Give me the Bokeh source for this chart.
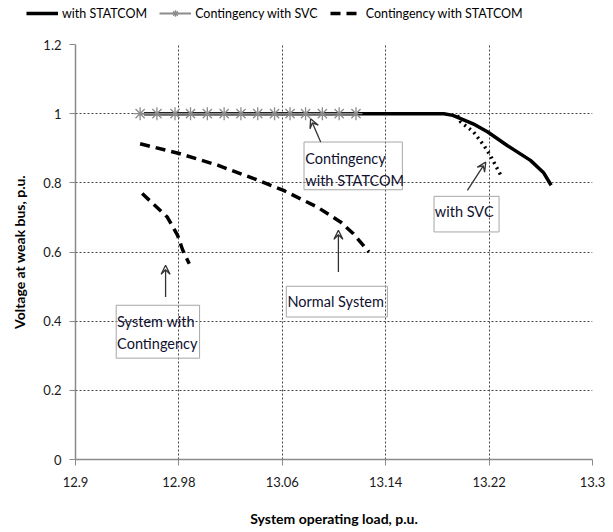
from bokeh.plotting import figure
from bokeh.layouts import column, row
from bokeh.models import (FixedTicker, CustomJSTickFormatter, Legend, LegendItem,
                          Arrow, VeeHead, ColumnDataSource, Range1d)
from bokeh.core.properties import value
from bokeh.embed import file_html
from bokeh.resources import INLINE

FONT = "Lato"

# ---- data ----
statcom_x = [12.953, 13.185, 13.192, 13.198, 13.209, 13.219, 13.234, 13.252, 13.262, 13.268]
statcom_y = [1.0, 1.0, 0.995, 0.9855, 0.968, 0.947, 0.908, 0.865, 0.830, 0.793]

svc_cont_x = [12.950, 12.963, 12.977, 12.989, 13.002, 13.015, 13.028,
              13.041, 13.054, 13.066, 13.078, 13.091, 13.104, 13.117]
svc_cont_y = [1.0] * 14

svc_x = [13.1955, 13.198, 13.208, 13.216, 13.221, 13.229]
svc_y = [0.995, 0.976, 0.947, 0.908, 0.879, 0.822]

normal_x = [12.950, 12.981, 13.010, 13.038, 13.061, 13.087, 13.105, 13.115, 13.127]
normal_y = [0.913, 0.884, 0.851, 0.812, 0.778, 0.730, 0.687, 0.653, 0.600]

cont_x = [12.9516, 12.971, 12.979, 12.983, 12.988]
cont_y = [0.769, 0.701, 0.648, 0.605, 0.566]

x_ticks = [12.9, 12.98, 13.06, 13.14, 13.22, 13.3]
y_ticks = [0, 0.2, 0.4, 0.6, 0.8, 1.0, 1.2]

legend_labels = ["with STATCOM", "Contingency with SVC", "Contingency with STATCOM"]

ann_text = ["Contingency\nwith STATCOM", "with SVC", "Normal System", "System with\nContingency"]
ann_tx = [13.0778, 13.1780, 13.0640, 12.9322]
ann_ty = [0.839, 0.7185, 0.4555, 0.3665]
box_l = [13.0768, 13.1774, 13.0631, 12.9315]
box_r = [13.1529, 13.2277, 13.1413, 12.9960]
box_t = [0.918, 0.761, 0.501, 0.446]
box_b = [0.780, 0.658, 0.412, 0.293]
arr_x0 = [13.0897, 13.2032, 13.1034, 12.9697]
arr_y0 = [0.918, 0.778, 0.542, 0.470]
arr_x1 = [13.0819, 13.2174, 13.1034, 12.9697]
arr_y1 = [0.9855, 0.860, 0.663, 0.5616]

# ---- styles ----
STATCOM_STYLE = dict(line_color="black", line_width=3.5)
SVCC_LINE_STYLE = dict(line_color="#8c8c8c", line_width=2)
SVCC_MARK_STYLE = dict(marker="asterisk", size=13, line_color="#8c8c8c", line_width=1.3)
DASH_STYLE = dict(line_color="black", line_width=3.5, line_dash="10 6")

# ---- legend strip (separate small figure above the chart) ----
leg = figure(width=613, height=30, output_backend="svg", toolbar_location=None,
             x_range=Range1d(0, 1), y_range=Range1d(0, 1),
             x_axis_type=None, y_axis_type=None, min_border=0)
leg.outline_line_color = None
leg.xgrid.visible = False
leg.ygrid.visible = False
# legend proxies: same series data, lying outside this strip's visible ranges
lr1 = leg.line(statcom_x, statcom_y, **STATCOM_STYLE)
lr2a = leg.line(svc_cont_x, svc_cont_y, **SVCC_LINE_STYLE)
lr2b = leg.scatter(svc_cont_x, svc_cont_y, **SVCC_MARK_STYLE)
lr3 = leg.line(normal_x, normal_y, **DASH_STYLE)
legend = Legend(items=[
    LegendItem(label=legend_labels[0], renderers=[lr1]),
    LegendItem(label=legend_labels[1], renderers=[lr2a, lr2b]),
    LegendItem(label=legend_labels[2], renderers=[lr3]),
], orientation="horizontal", location=(26, 9), border_line_color=None,
    background_fill_alpha=0, padding=2, margin=0, spacing=12,
    glyph_width=32, glyph_height=16, label_height=16, label_standoff=4,
    label_text_font=FONT, label_text_font_size="12.5px", label_text_color="black")
leg.add_layout(legend, "center")

# ---- main chart ----
p = figure(width=613, height=502, output_backend="svg", toolbar_location=None,
           x_range=Range1d(12.9, 13.3), y_range=Range1d(0, 1.2),
           min_border_left=75, min_border_right=21, min_border_top=14, min_border_bottom=73)
p.outline_line_color = None
p.background_fill_color = "white"

for ax, ticks in ((p.xaxis[0], x_ticks), (p.yaxis[0], y_ticks)):
    ax.ticker = FixedTicker(ticks=ticks)
    ax.formatter = CustomJSTickFormatter(code="return Number(tick.toFixed(2)).toString();")
    ax.axis_line_color = "#8a8a8a"
    ax.axis_line_width = 1.5
    ax.major_tick_line_color = "#8a8a8a"
    ax.major_tick_out = 6
    ax.major_tick_in = 0
    ax.minor_tick_line_color = None
    ax.major_label_text_font = FONT
    ax.major_label_text_font_size = "13px"
    ax.major_label_text_color = "#1a1a1a"
    ax.axis_label_text_font = FONT
    ax.axis_label_text_font_size = "14px"
    ax.axis_label_text_font_style = "bold"
    ax.axis_label_text_color = "black"

p.xaxis.axis_label = "System operating load, p.u."
p.yaxis.axis_label = "Voltage at weak bus, p.u."
p.xaxis.major_label_standoff = 11
p.xaxis.axis_label_standoff = 20
p.yaxis.major_label_standoff = 8
p.yaxis.axis_label_standoff = 12

for g in (p.xgrid[0], p.ygrid[0]):
    g.grid_line_color = "#444444"
    g.grid_line_dash = "2 2"
    g.grid_line_width = 1
    g.ticker = FixedTicker(ticks=x_ticks if g is p.xgrid[0] else y_ticks)

p.quad(left=box_l, right=box_r, top=box_t, bottom=box_b, fill_color=None,
       line_color="#a6a6a6", line_width=1)
p.text(x=ann_tx, y=ann_ty, text=ann_text, text_font=value(FONT), text_font_size="14.5px",
       text_align="left", text_baseline="middle", text_color="#101030", text_line_height=1.3)

p.line(statcom_x, statcom_y, line_join="round", **STATCOM_STYLE)
p.line(svc_cont_x, svc_cont_y, **SVCC_LINE_STYLE)
p.scatter(svc_cont_x, svc_cont_y, **SVCC_MARK_STYLE)
p.line(svc_x, svc_y, line_color="black", line_width=3.5, line_dash="2 4")
p.line(normal_x, normal_y, **DASH_STYLE)
p.line(cont_x, cont_y, **DASH_STYLE)

arr_src = ColumnDataSource(dict(x0=arr_x0, y0=arr_y0, x1=arr_x1, y1=arr_y1))
p.add_layout(Arrow(x_start="x0", y_start="y0", x_end="x1", y_end="y1", source=arr_src,
                   line_color="#333333", line_width=1.3,
                   end=VeeHead(size=9, line_color="#333333", line_width=1.3, fill_color=None)))

layout = column(row(leg, spacing=0), p, spacing=0)
open("out.html", "w").write(file_html(layout, INLINE))
